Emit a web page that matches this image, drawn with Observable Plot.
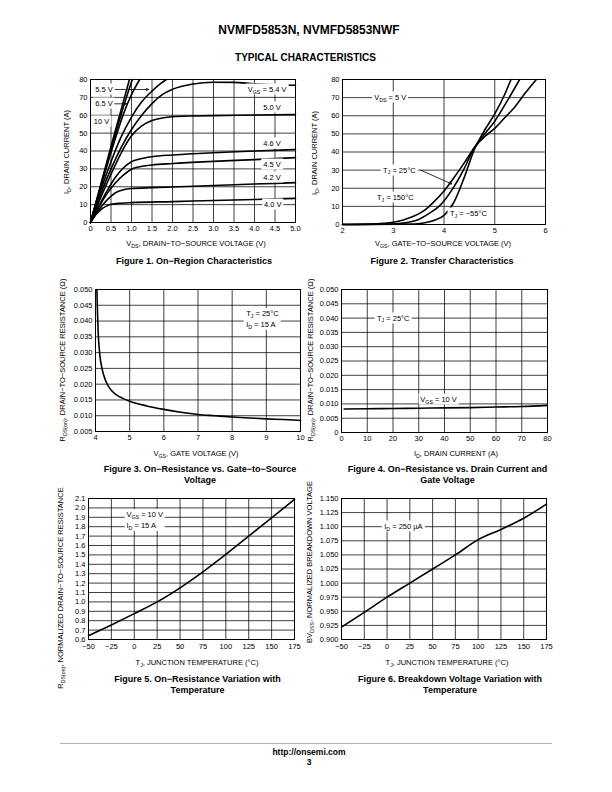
<!DOCTYPE html>
<html><head><meta charset="utf-8">
<script src="https://cdn.jsdelivr.net/npm/d3@7"></script>
<script src="https://cdn.jsdelivr.net/npm/@observablehq/plot@0.6"></script>
<style>
body{margin:0;background:#fff;}
#page{position:relative;width:612px;height:792px;font-family:"Liberation Sans",Arial,Helvetica,sans-serif;color:#000;overflow:hidden;background:#fff;}
.t{position:absolute;white-space:nowrap;transform:translate(-50%,-50%);line-height:1;}
.ylab{position:absolute;white-space:nowrap;transform:translate(-50%,-50%) rotate(-90deg);line-height:1;font-size:7.5px;}
.xlab{position:absolute;white-space:nowrap;transform:translate(-50%,-50%);line-height:1;font-size:7.5px;}
.cap{position:absolute;white-space:nowrap;transform:translate(-50%,-50%);line-height:1;font-size:9px;font-weight:bold;}
.ann{position:absolute;white-space:nowrap;background:#fff;font-size:7.5px;line-height:11px;padding:0 2px;transform:translate(-50%,-50%);text-align:left;}
sub{font-size:70%;vertical-align:baseline;position:relative;top:0.35em;line-height:0;}
</style></head><body><div id="page"></div>
<script>
// ---------------- Figure 1 data: ID (A) vs VDS (V) ----------------
const f1XTicks = [0,0.5,1.0,1.5,2.0,2.5,3.0,3.5,4.0,4.5,5.0];
const f1YTicks = [0,10,20,30,40,50,60,70,80];
const f1Vds_10V  = [0,0.2,0.4,0.6,0.8,0.95];
const f1Id_10V   = [0,17,34,51,67.5,80];
const f1Vds_6V5  = [0,0.2,0.4,0.6,0.8,1.02];
const f1Id_6V5   = [0,16.5,33,49,64.5,80];
const f1Vds_6V   = [0,0.2,0.4,0.6,0.8,1.0,1.2];
const f1Id_6V    = [0,16,31.5,46.5,60.5,71.5,80];
const f1Vds_5V5  = [0,0.25,0.5,0.75,1.0,1.25,1.5,1.7,1.85];
const f1Id_5V5   = [0,18,34,48,59,67.5,73.5,77.5,80];
const f1Vds_5V4  = [0,0.25,0.5,0.75,1.0,1.25,1.5,1.75,2.0,2.5,3.0,3.5,4.0,4.5,5.0];
const f1Id_5V4   = [0,16,30,42,52,60,66.5,71.5,74.5,77.5,78.5,78.4,77.6,77.1,76.8];
const f1Vds_5V0  = [0,0.25,0.5,0.75,1.0,1.25,1.5,1.75,2.0,2.5,3.0,4.0,5.0];
const f1Id_5V0   = [0,14,27,39,48.5,54,57,58.5,59.2,59.6,59.8,60.1,60.4];
const f1Vds_4V6  = [0,0.2,0.4,0.6,0.8,1.0,1.2,1.5,2.0,2.5,3.0,4.0,5.0];
const f1Id_4V6   = [0,9,17.5,25,30.5,34,35.5,36.8,37.8,38.5,39,40,40.8];
const f1Vds_4V5  = [0,0.2,0.4,0.6,0.8,1.0,1.2,1.5,2.0,3.0,4.0,5.0];
const f1Id_4V5   = [0,8.5,16,22,26.5,29.8,31.2,32.2,33,34.2,35.2,36.3];
const f1Vds_4V2  = [0,0.2,0.4,0.6,0.8,1.0,1.5,2.0,3.0,4.0,5.0];
const f1Id_4V2   = [0,7,12.5,16.5,18.3,19.0,19.5,19.9,20.7,21.5,22.3];
const f1Vds_4V0  = [0,0.1,0.2,0.3,0.4,0.5,0.75,1.0,2.0,3.0,4.0,5.0];
const f1Id_4V0   = [0,3.5,6,8,9.3,10.2,10.8,11.1,11.7,12.3,12.9,13.5];
const f1LabelHtml = ["V<sub>GS</sub> = 5.4 V","5.0 V","4.6 V","4.5 V","4.2 V","4.0 V","5.5 V","6.5 V","10 V"];
const f1LabelX    = [4.32,4.44,4.44,4.44,4.44,4.46,0.34,0.34,0.28];
const f1LabelY    = [74.4,64.5,44.4,32.4,25.3,10,74.4,66.4,56.7];
const f1ArrowX1 = [0.60,0.58], f1ArrowY1 = [74.4,66.4];
const f1ArrowX2 = [1.42,0.88], f1ArrowY2 = [74.4,66.4];

// ---------------- Figure 2 data: ID (A) vs VGS (V) ----------------
const f2XTicks = [2,3,4,5,6];
const f2YTicks = [0,10,20,30,40,50,60,70,80];
const f2Vgs_150 = [2,2.5,2.8,3.0,3.2,3.4,3.6,3.8,4.0,4.2,4.4,4.6,4.8,5.0,5.2,5.4,5.6,5.82];
const f2Id_150  = [0,0.2,0.6,1.2,2.5,4.5,7.5,12.5,18.5,26,34,42.5,48.5,53,59,65,72.5,80];
const f2Vgs_25  = [2,3.0,3.3,3.5,3.7,3.9,4.0,4.2,4.4,4.6,4.8,5.0,5.2,5.49];
const f2Id_25   = [0,0.3,1.2,2.8,6,10,13,21,31,42.5,50,57,66,80];
const f2Vgs_m55 = [2,3.4,3.6,3.8,4.0,4.2,4.4,4.6,4.8,5.0,5.2,5.32];
const f2Id_m55  = [0,0.2,0.8,2.2,5,12.5,26,41.5,52,61,72,80];
const f2LabelHtml = ["V<sub>DS</sub> = 5 V","T<sub>J</sub> = 25°C","T<sub>J</sub> = 150°C","T<sub>J</sub> = −55°C"];
const f2LabelX    = [2.95,3.13,3.05,4.49];
const f2LabelY    = [70,30,14.9,6.1];
const f2ArrowX1 = [3.54], f2ArrowY1 = [30];
const f2ArrowX2 = [4.15], f2ArrowY2 = [22.4];

// ---------------- Figure 3 data: RDS(on) vs VGS ----------------
const f3XTicks = [4,5,6,7,8,9,10];
const f3YTicks = [0.005,0.010,0.015,0.020,0.025,0.030,0.035,0.040,0.045,0.050];
const f3Vgs = [4.04,4.06,4.08,4.12,4.2,4.3,4.45,4.6,4.8,5.0,5.5,6.0,6.5,7.0,7.5,8.0,8.5,9.0,9.5,10];
const f3Rds = [0.050,0.042,0.036,0.030,0.0245,0.021,0.0182,0.0167,0.0155,0.0146,0.0131,0.0120,0.0111,0.0104,0.0100,0.0096,0.0093,0.0090,0.0088,0.0085];
const f3LabelHtml = ["T<sub>J</sub> = 25°C<br>I<sub>D</sub> = 15 A"];
const f3LabelX = [8.9], f3LabelY = [0.0405];

// ---------------- Figure 4 data: RDS(on) vs ID ----------------
const f4XTicks = [0,10,20,30,40,50,60,70,80];
const f4YTicks = [0,0.005,0.010,0.015,0.020,0.025,0.030,0.035,0.040,0.045,0.050];
const f4Id  = [1,10,20,30,40,50,60,70,80];
const f4Rds = [0.0082,0.0083,0.0084,0.0085,0.0086,0.0087,0.0089,0.0091,0.0095];
const f4LabelHtml = ["T<sub>J</sub> = 25°C","V<sub>GS</sub> = 10 V"];
const f4LabelX = [20.3,37.9], f4LabelY = [0.040,0.0115];

// ---------------- Figure 5 data: normalized RDS(on) vs TJ ----------------
const f5XTicks = [-50,-25,0,25,50,75,100,125,150,175];
const f5YTicks = [0.6,0.7,0.8,0.9,1.0,1.1,1.2,1.3,1.4,1.5,1.6,1.7,1.8,1.9,2.0,2.1];
const f5Tj  = [-50,-25,0,25,50,75,100,125,150,175];
const f5Rds = [0.64,0.755,0.875,1.0,1.15,1.32,1.505,1.70,1.895,2.09];
const f5LabelHtml = ["V<sub>GS</sub> = 10 V<br>I<sub>D</sub> = 15 A"];
const f5LabelX = [12], f5LabelY = [1.864];

// ---------------- Figure 6 data: normalized BVDSS vs TJ ----------------
const f6XTicks = [-50,-25,0,25,50,75,100,125,150,175];
const f6YTicks = [0.900,0.925,0.950,0.975,1.000,1.025,1.050,1.075,1.100,1.125,1.150];
const f6Tj = [-50,-25,0,25,50,75,100,125,150,175];
const f6Bv = [0.922,0.948,0.975,1.0,1.025,1.05,1.077,1.095,1.115,1.14];
const f6LabelHtml = ["I<sub>D</sub> = 250 µA"];
const f6LabelX = [18.5], f6LabelY = [1.100];

// ---------------- helpers ----------------
const FONT = '"Liberation Sans", Arial, Helvetica, sans-serif';
const page = document.getElementById("page");
function addDiv(html, x, y, cls, extra) {
  const d = document.createElement("div");
  d.className = cls; d.innerHTML = html;
  d.style.left = x + "px"; d.style.top = y + "px";
  if (extra) Object.assign(d.style, extra);
  page.appendChild(d);
  return d;
}
const pts = (xs, ys) => xs.map((x, i) => ({x, y: ys[i]}));
const curve = (xs, ys) => Plot.line(pts(xs, ys), {x: "x", y: "y", stroke: "#000", strokeWidth: 1.6, curve: "monotone-x"});
const arrows = (x1, y1, x2, y2) => Plot.arrow(x1.map((v, i) => ({x1: v, y1: y1[i], x2: x2[i], y2: y2[i]})),
  {x1: "x1", y1: "y1", x2: "x2", y2: "y2", stroke: "#000", strokeWidth: 0.8, headLength: 5, headAngle: 45});

function makeChart(c) {
  const ml = 40, mr = 10, mt = 8, mb = 20;
  const fw = c.frame[2] - c.frame[0], fh = c.frame[3] - c.frame[1];
  const W = fw + ml + mr, H = fh + mt + mb;
  const p = Plot.plot({
    width: W, height: H, marginLeft: ml, marginRight: mr, marginTop: mt, marginBottom: mb,
    style: {fontFamily: FONT, fontSize: "7.5px", color: "#000", background: "transparent", overflow: "visible"},
    x: {domain: c.xDomain},
    y: {domain: c.yDomain},
    marks: [
      Plot.gridX(c.xTicks, {stroke: "#000", strokeOpacity: 1, strokeWidth: 0.75}),
      Plot.gridY(c.yTicks, {stroke: "#000", strokeOpacity: 1, strokeWidth: 0.75}),
      Plot.axisX(c.xTicks, {tickSize: 0, tickPadding: c.xPad ?? 3, tickFormat: c.xFmt, label: null, fill: "#000"}),
      Plot.axisY(c.yTicks, {tickSize: 0, tickPadding: 3, tickFormat: c.yFmt, label: null, fill: "#000"}),
      ...c.marks,
      Plot.frame({stroke: "#000", strokeWidth: 1})
    ]
  });
  const left = c.frame[0] - ml, top = c.frame[1] - mt;
  p.style.position = "absolute"; p.style.left = left + "px"; p.style.top = top + "px";
  page.appendChild(p);
  const sx = p.scale("x"), sy = p.scale("y");
  const toPage = (x, y) => {
    let px, py;
    if (sx && typeof sx.apply === "function") { px = sx.apply(x); py = sy.apply(y); }
    else {
      px = ml + (x - c.xDomain[0]) / (c.xDomain[1] - c.xDomain[0]) * fw;
      py = mt + (1 - (y - c.yDomain[0]) / (c.yDomain[1] - c.yDomain[0])) * fh;
    }
    return [left + px, top + py];
  };
  (c.labels || []).forEach(([html, x, y]) => {
    const [px, py] = toPage(x, y);
    addDiv(html, px, py, "ann");
  });
  return p;
}
const zip3 = (a, b, c) => a.map((v, i) => [v, b[i], c[i]]);
const fmtNeg = d => d < 0 ? "−" + Math.abs(d) : String(d);

// ---------------- page header ----------------
addDiv("NVMFD5853N, NVMFD5853NWF", 309, 30, "t", {fontSize: "12px", fontWeight: "bold"});
addDiv("TYPICAL CHARACTERISTICS", 305.5, 58, "t", {fontSize: "10px", fontWeight: "bold"});

// ---------------- Figure 1 ----------------
makeChart({
  frame: [90, 79, 295, 222], xDomain: [0, 5], yDomain: [0, 80],
  xTicks: f1XTicks, yTicks: f1YTicks,
  xFmt: d => d === 0 ? "0" : d.toFixed(1), yFmt: d => String(d),
  marks: [
    curve(f1Vds_10V, f1Id_10V), curve(f1Vds_6V5, f1Id_6V5), curve(f1Vds_6V, f1Id_6V),
    curve(f1Vds_5V5, f1Id_5V5), curve(f1Vds_5V4, f1Id_5V4), curve(f1Vds_5V0, f1Id_5V0),
    curve(f1Vds_4V6, f1Id_4V6), curve(f1Vds_4V5, f1Id_4V5), curve(f1Vds_4V2, f1Id_4V2),
    curve(f1Vds_4V0, f1Id_4V0),
    arrows(f1ArrowX1, f1ArrowY1, f1ArrowX2, f1ArrowY2)
  ],
  labels: zip3(f1LabelHtml, f1LabelX, f1LabelY)
});
addDiv("I<sub>D</sub>, DRAIN CURRENT (A)", 67, 152, "ylab");
addDiv("V<sub>DS</sub>, DRAIN−TO−SOURCE VOLTAGE (V)", 196, 244, "xlab");
addDiv("Figure 1. On−Region Characteristics", 194, 261, "cap");

// ---------------- Figure 2 ----------------
makeChart({
  frame: [342, 79, 545, 224], xDomain: [2, 6], yDomain: [0, 80],
  xTicks: f2XTicks, yTicks: f2YTicks,
  xFmt: d => String(d), yFmt: d => String(d),
  marks: [
    curve(f2Vgs_150, f2Id_150), curve(f2Vgs_25, f2Id_25), curve(f2Vgs_m55, f2Id_m55),
    arrows(f2ArrowX1, f2ArrowY1, f2ArrowX2, f2ArrowY2)
  ],
  labels: zip3(f2LabelHtml, f2LabelX, f2LabelY)
});
addDiv("I<sub>D</sub>, DRAIN CURRENT (A)", 315, 153, "ylab");
addDiv("V<sub>GS</sub>, GATE−TO−SOURCE VOLTAGE (V)", 443, 244, "xlab");
addDiv("Figure 2. Transfer Characteristics", 442, 261, "cap");

// ---------------- Figure 3 ----------------
makeChart({
  frame: [95, 289, 300, 431], xDomain: [4, 10], yDomain: [0.005, 0.050],
  xTicks: f3XTicks, yTicks: f3YTicks,
  xFmt: d => String(d), yFmt: d => d.toFixed(3),
  marks: [curve(f3Vgs, f3Rds)],
  labels: zip3(f3LabelHtml, f3LabelX, f3LabelY)
});
addDiv("R<sub>DS(on)</sub>, DRAIN−TO−SOURCE RESISTANCE (Ω)", 63, 360, "ylab");
addDiv("V<sub>GS</sub>, GATE VOLTAGE (V)", 196, 454, "xlab");
addDiv("Figure 3. On−Resistance vs. Gate−to−Source", 200, 468.5, "cap");
addDiv("Voltage", 200, 479.5, "cap");

// ---------------- Figure 4 ----------------
makeChart({
  frame: [341, 289, 547, 432], xDomain: [0, 80], yDomain: [0, 0.050],
  xTicks: f4XTicks, yTicks: f4YTicks,
  xFmt: d => String(d), yFmt: d => d === 0 ? "0" : d.toFixed(3),
  marks: [curve(f4Id, f4Rds)],
  labels: zip3(f4LabelHtml, f4LabelX, f4LabelY)
});
addDiv("R<sub>DS(on)</sub>, DRAIN−TO−SOURCE RESISTANCE (Ω)", 311, 360, "ylab");
addDiv("I<sub>D</sub>, DRAIN CURRENT (A)", 456, 454, "xlab");
addDiv("Figure 4. On−Resistance vs. Drain Current and", 447.5, 468.5, "cap");
addDiv("Gate Voltage", 447.5, 479.5, "cap");

// ---------------- Figure 5 ----------------
makeChart({
  frame: [88, 498, 294, 639], xDomain: [-50, 175], yDomain: [0.6, 2.1],
  xTicks: f5XTicks, yTicks: f5YTicks, xPad: 4.5,
  xFmt: fmtNeg, yFmt: d => d.toFixed(1),
  marks: [curve(f5Tj, f5Rds)],
  labels: zip3(f5LabelHtml, f5LabelX, f5LabelY)
});
addDiv("R<sub>DS(on)</sub>, NORMALIZED DRAIN−TO−SOURCE RESISTANCE", 61, 588, "ylab");
addDiv("T<sub>J</sub>, JUNCTION TEMPERATURE (°C)", 197, 663, "xlab");
addDiv("Figure 5. On−Resistance Variation with", 197.5, 678.5, "cap");
addDiv("Temperature", 197.5, 689.5, "cap");

// ---------------- Figure 6 ----------------
makeChart({
  frame: [341, 498, 546, 639], xDomain: [-50, 175], yDomain: [0.9, 1.15],
  xTicks: f6XTicks, yTicks: f6YTicks, xPad: 4.5,
  xFmt: fmtNeg, yFmt: d => d.toFixed(3),
  marks: [curve(f6Tj, f6Bv)],
  labels: zip3(f6LabelHtml, f6LabelX, f6LabelY)
});
addDiv("BV<sub>DSS</sub>, NORMALIZED BREAKDOWN VOLTAGE", 310, 562, "ylab");
addDiv("T<sub>J</sub>, JUNCTION TEMPERATURE (°C)", 447, 663, "xlab");
addDiv("Figure 6. Breakdown Voltage Variation with", 450, 678.5, "cap");
addDiv("Temperature", 450, 689.5, "cap");

// ---------------- footer ----------------
const rule = document.createElement("div");
Object.assign(rule.style, {position: "absolute", left: "60px", top: "742.5px", width: "492px", height: "1.3px", background: "#b3b3b3"});
page.appendChild(rule);
addDiv("http://onsemi.com", 309, 752, "t", {fontSize: "8.5px", fontWeight: "bold"});
addDiv("3", 309, 761.5, "t", {fontSize: "8.5px", fontWeight: "bold"});
</script></body></html>
